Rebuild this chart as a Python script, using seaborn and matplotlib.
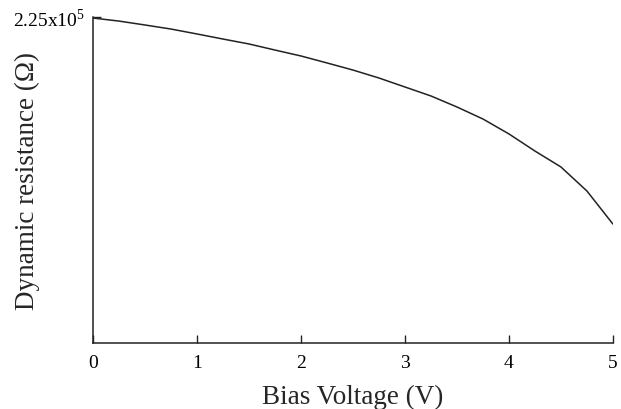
import numpy as np
import pandas as pd
import matplotlib
matplotlib.use("Agg")
import matplotlib.pyplot as plt
import seaborn as sns

# values
bias_v = [0.0, 0.25, 0.5, 0.75, 1.0, 1.25, 1.5, 1.75, 2.0, 2.25, 2.5,
          2.75, 3.0, 3.25, 3.5, 3.75, 4.0, 4.25, 4.5, 4.75, 5.0]
resistance = [224300, 222200, 219500, 216700, 213300, 209800, 206400,
              202200, 198100, 193300, 188400, 182900, 176700, 170500,
              162900, 154600, 144300, 132500, 121500, 104900, 82100]
x_ticks = [0, 1, 2, 3, 4, 5]
y_top = 225000
y_label_top = r"2.25x10$^5$"

sns.set_style("ticks")
plt.rcParams['font.family'] = ['Liberation Serif', 'DejaVu Serif']
plt.rcParams['mathtext.fontset'] = 'custom'
plt.rcParams['mathtext.rm'] = 'Liberation Serif'

df = pd.DataFrame({"v": bias_v, "r": resistance})

fig = plt.figure(figsize=(6.21, 4.10), dpi=100)
ax = fig.add_axes([0.150, 0.161, 0.837, 0.795])
sns.lineplot(data=df, x="v", y="r", ax=ax, color="#222222", linewidth=1.1)

ax.set_xlim(0, 5)
ax.set_ylim(0, y_top)
ax.set_xticks(x_ticks)
ax.set_xticklabels([str(t) for t in x_ticks], fontsize=14)
ax.set_yticks([y_top])
ax.set_yticklabels([y_label_top], fontsize=14)
ax.tick_params(axis="both", direction="in", length=6, width=1, colors="#222222")
ax.tick_params(axis="x", pad=8)
ax.tick_params(axis="y", pad=6)
for lab in ax.get_xticklabels() + ax.get_yticklabels():
    lab.set_color("black")

sns.despine(ax=ax)
for s in ["left", "bottom"]:
    ax.spines[s].set_linewidth(1.1)
    ax.spines[s].set_color("#222222")

ax.set_xlabel("Bias Voltage (V)", fontsize=19.5)
ax.xaxis.set_label_coords(0.5, -0.125)
ax.set_ylabel("Dynamic resistance (Ω)", fontsize=19.5)
ax.yaxis.set_label_coords(-0.102, 0.50)

fig.savefig("out.png", dpi=100)
